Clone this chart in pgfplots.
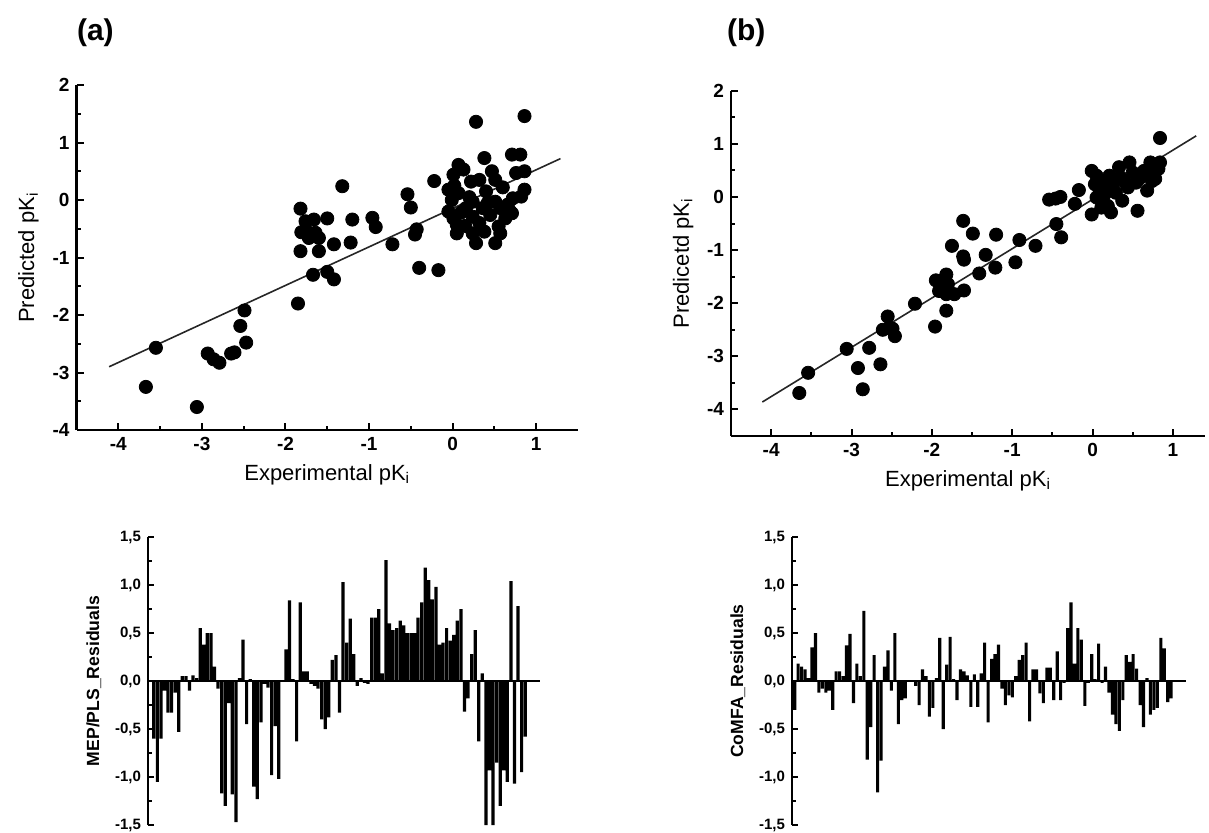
\documentclass[border=0pt]{standalone}
\usepackage{fontspec}
\setmainfont{Liberation Sans}
\usepackage{pgfplots}
\pgfplotsset{compat=1.18}

\pgfplotsset{
  scat/.style={
    scale only axis, axis lines*=left, tick align=inside,
    xtick={-4,-3,...,1}, ytick={-4,-3,...,2}, minor tick num=1,
    axis line style={line width=1.1pt},
    tick style={black, line width=1pt},
    major tick length=3.5pt, minor tick length=2pt,
    tick label style={font=\fontsize{9.5}{9.5}\selectfont\bfseries},
    label style={font=\fontsize{11}{11}\selectfont},
    /pgf/number format/assume math mode=true,
    clip=false,
  },
  res/.style={
    scale only axis, axis x line*=middle, axis y line*=left,
    tick align=inside, xtick=\empty,
    ymin=-1.5, ymax=1.5, ytick={-1.5,-1,...,1.5}, minor tick num=1,
    axis line style={line width=0.9pt},
    tick style={black, line width=0.8pt},
    major tick length=3pt, minor tick length=1.8pt,
    yticklabel style={font=\fontsize{7.5}{7.5}\selectfont\bfseries,
      /pgf/number format/.cd, fixed, fixed zerofill, precision=1, use comma},
    label style={font=\fontsize{8.8}{8.8}\selectfont\bfseries},
    /pgf/number format/assume math mode=true,
  },
  dots/.style={only marks, mark=*, mark size=3.3pt, black},
  fitline/.style={black!85, line width=0.8pt, no marks},
  resbar/.style={ybar, bar width=0.9, fill=black, draw=none},
}

\begin{document}
\begin{tikzpicture}
\useasboundingbox (0pt,0pt) rectangle (604.5pt,-416pt);

\node[anchor=west, font=\fontsize{15}{15}\selectfont\bfseries] at (35pt,-16.5pt) {(a)};
\node[anchor=west, font=\fontsize{15}{15}\selectfont\bfseries] at (360pt,-16.5pt) {(b)};

% ---------- (a) scatter
\begin{axis}[scat, at={(38.25pt,-215pt)}, anchor=south west,
  width=250.75pt, height=172.5pt,
  xmin=-4.5, xmax=1.5, ymin=-4, ymax=2,
  xlabel={Experimental pK\textsubscript{i}},
  ylabel={Predicted pK\textsubscript{i}}]
\addplot[dots] coordinates {
(-3.67,-3.25) (-3.55,-2.57) (-3.06,-3.60) (-2.93,-2.67) (-2.86,-2.77)
(-2.79,-2.83) (-2.65,-2.67) (-2.61,-2.65) (-2.54,-2.19) (-2.49,-1.92)
(-2.47,-2.48) (-1.85,-1.80) (-1.82,-0.15) (-1.82,-0.89) (-1.81,-0.56)
(-1.76,-0.37) (-1.74,-0.55) (-1.72,-0.66) (-1.67,-1.30) (-1.66,-0.34)
(-1.64,-0.57) (-1.60,-0.66) (-1.60,-0.89) (-1.50,-0.32) (-1.50,-1.25)
(-1.42,-1.38) (-1.42,-0.77) (-1.32,0.24) (-1.22,-0.74) (-1.20,-0.34)
(-0.96,-0.31) (-0.92,-0.47) (-0.72,-0.77) (-0.54,0.10) (-0.50,-0.13)
(-0.45,-0.60) (-0.43,-0.51) (-0.40,-1.18) (-0.22,0.33) (-0.17,-1.22)
(0.28,1.36) (0.86,1.46) (0.38,0.73) (0.71,0.79) (0.81,0.79)
(0.07,0.61) (0.13,0.53) (0.01,0.44) (0.47,0.50) (0.76,0.47)
(0.86,0.50) (0.51,0.35) (0.22,0.32) (0.32,0.35) (-0.05,0.18)
(0.86,0.18) (0.07,0.12) (0.40,0.15) (0.72,0.03) (-0.01,0.00)
(0.24,-0.03) (0.82,0.06) (0.51,-0.03) (0.66,-0.08) (-0.05,-0.20)
(0.16,-0.14) (0.36,-0.14) (0.57,-0.14) (0.71,-0.23) (0.01,-0.32)
(0.24,-0.29) (0.45,-0.26) (0.05,-0.43) (0.32,-0.40) (0.63,-0.32)
(0.05,-0.58) (0.24,-0.58) (0.55,-0.46) (0.51,-0.75) (0.28,-0.75)
(0.57,-0.58) (0.10,-0.22) (0.20,0.05) (0.42,-0.05) (0.60,0.22)
(0.15,-0.45) (0.38,-0.55) (0.68,-0.18) (0.02,0.25)
};
\addplot[fitline] coordinates {(-4.11,-2.90) (1.29,0.72)};
\end{axis}

% ---------- (b) scatter
\begin{axis}[scat, at={(365.5pt,-218pt)}, anchor=south west,
  width=237pt, height=172.65pt,
  xmin=-4.5, xmax=1.4, ymin=-4.5, ymax=2,
  xlabel={Experimental pK\textsubscript{i}},
  ylabel={Predicetd pK\textsubscript{i}}]
\addplot[dots] coordinates {
(-3.65,-3.69) (-3.54,-3.31) (-3.06,-2.86) (-2.92,-3.22) (-2.86,-3.62)
(-2.78,-2.84) (-2.64,-3.15) (-2.61,-2.50) (-2.55,-2.25) (-2.53,-2.46)
(-2.49,-2.48) (-2.46,-2.62) (-2.21,-2.01) (-1.96,-2.44) (-1.95,-1.57)
(-1.89,-1.58) (-1.82,-1.46) (-1.80,-1.64) (-1.91,-1.77) (-1.82,-1.83)
(-1.82,-2.14) (-1.72,-1.83) (-1.60,-1.76) (-1.75,-0.92) (-1.61,-0.45)
(-1.61,-1.12) (-1.60,-1.18) (-1.49,-0.69) (-1.41,-1.44) (-1.33,-1.09)
(-1.20,-0.71) (-1.21,-1.33) (-0.96,-1.23) (-0.91,-0.81) (-0.71,-0.92)
(-0.54,-0.05) (-0.46,-0.03) (-0.40,0.00) (-0.45,-0.51) (-0.39,-0.76)
(-0.22,-0.13) (-0.17,0.13) (-0.01,-0.33) (0.84,1.11)
(-0.01,0.49) (0.05,0.40) (0.03,0.24) (0.09,0.12) (0.05,-0.01)
(0.13,-0.07) (0.11,-0.20) (0.19,-0.17) (0.23,-0.29) (0.17,0.30)
(0.25,0.21) (0.33,0.56) (0.35,0.37) (0.29,0.08) (0.37,-0.07)
(0.46,0.65) (0.50,0.46) (0.44,0.18) (0.56,-0.26) (0.58,0.34)
(0.64,0.49) (0.68,0.12) (0.72,0.65) (0.78,0.34) (0.82,0.53)
(0.84,0.65) (0.74,0.30) (0.54,0.27) (0.21,0.40)
(0.08,0.30) (0.15,0.05) (0.40,0.28) (0.62,0.40) (0.78,0.48)
};
\addplot[fitline] coordinates {(-4.11,-3.86) (1.29,1.15)};
\end{axis}

% ---------- (a) residuals
\begin{axis}[res, at={(74pt,-412.5pt)}, anchor=south west,
  width=196pt, height=144pt, xmin=-0.62, xmax=109.15,
  ylabel={MEP/PLS\_Residuals}]
\addplot[resbar] coordinates {
(1,-0.60) (2,-1.05) (3,-0.60) (4,-0.10) (5,-0.33) (6,-0.33) (7,-0.12) (8,-0.53)
(9,0.05) (10,0.05) (11,-0.10) (12,0.06) (13,0.03) (14,0.55) (15,0.38) (16,0.50)
(17,0.50) (18,0.15) (19,-0.08) (20,-1.17) (21,-1.30) (22,-0.23) (23,-1.18) (24,-1.47)
(25,0.03) (26,0.43) (27,-0.45) (28,0.02) (29,-1.10) (30,-1.23) (31,-0.43) (32,-0.03)
(33,-0.07) (34,-0.98) (35,-0.47) (36,-1.02) (37,-0.01) (38,0.33) (39,0.84) (40,0.02)
(41,-0.63) (42,0.82) (43,0.10) (44,0.10) (45,-0.03) (46,-0.05) (47,-0.08) (48,-0.40)
(49,-0.50) (50,-0.38) (51,0.22) (52,0.27) (53,-0.33) (54,1.03) (55,0.40) (56,0.65)
(57,0.28) (58,-0.05) (59,0.03) (60,-0.02) (61,-0.03) (62,0.66) (63,0.66) (64,0.75)
(65,0.08) (66,1.26) (67,0.60) (68,0.53) (69,0.55) (70,0.63) (71,0.58) (72,0.50)
(73,0.50) (74,0.50) (75,0.66) (76,0.82) (77,1.18) (78,1.05) (79,0.85) (80,0.98)
(81,0.38) (82,0.40) (83,0.55) (84,0.42) (85,0.48) (86,0.63) (87,0.75) (88,-0.32)
(89,-0.18) (90,0.28) (91,0.53) (92,-0.63) (93,0.08) (94,-1.50) (95,-0.93) (96,-1.50)
(97,-0.85) (98,-1.30) (99,-0.93) (100,-1.05) (101,1.04) (102,-1.07) (103,0.78) (104,-0.95)
(105,-0.58)
};
\end{axis}

% ---------- (b) residuals
\begin{axis}[res, at={(396pt,-412.5pt)}, anchor=south west,
  width=197pt, height=144pt, xmin=0.21, xmax=114.3,
  ylabel={CoMFA\_Residuals}]
\addplot[resbar] coordinates {
(1,-0.30) (2,0.18) (3,0.15) (4,0.12) (5,0.03) (6,0.35) (7,0.50) (8,-0.12)
(9,-0.08) (10,-0.12) (11,-0.10) (12,-0.30) (13,0.10) (14,0.10) (15,0.05) (16,0.37)
(17,0.49) (18,-0.23) (19,0.18) (20,0.05) (21,0.73) (22,-0.82) (23,-0.48) (24,0.27)
(25,-1.16) (26,-0.83) (27,0.15) (28,0.32) (29,-0.10) (30,0.50) (31,-0.45) (32,-0.20)
(33,-0.18) (34,0.01) (35,0.01) (36,-0.05) (37,-0.25) (38,0.12) (39,0.05) (40,-0.37)
(41,-0.28) (42,0.03) (43,0.45) (44,-0.50) (45,0.17) (46,0.46) (47,0.02) (48,-0.20)
(49,0.12) (50,0.10) (51,0.06) (52,-0.27) (53,0.07) (54,-0.27) (55,0.08) (56,0.40)
(57,-0.43) (58,0.23) (59,0.28) (60,0.38) (61,-0.08) (62,-0.25) (63,-0.15) (64,-0.17)
(65,0.05) (66,0.22) (67,0.27) (68,0.40) (69,-0.42) (70,0.12) (71,0.12) (72,-0.13)
(73,-0.23) (74,0.14) (75,0.14) (76,-0.20) (77,0.31) (78,-0.20) (79,-0.02) (80,0.55)
(81,0.82) (82,0.18) (83,0.55) (84,0.43) (85,-0.26) (86,-0.02) (87,0.28) (88,0.02)
(89,0.39) (90,-0.02) (91,0.15) (92,-0.12) (93,-0.35) (94,-0.45) (95,-0.52) (96,-0.20)
(97,0.27) (98,0.20) (99,0.28) (100,0.13) (101,-0.25) (102,-0.48) (103,0.03) (104,-0.35)
(105,-0.30) (106,-0.28) (107,0.45) (108,0.34) (109,-0.22) (110,-0.18)
};
\end{axis}
\end{tikzpicture}
\end{document}
